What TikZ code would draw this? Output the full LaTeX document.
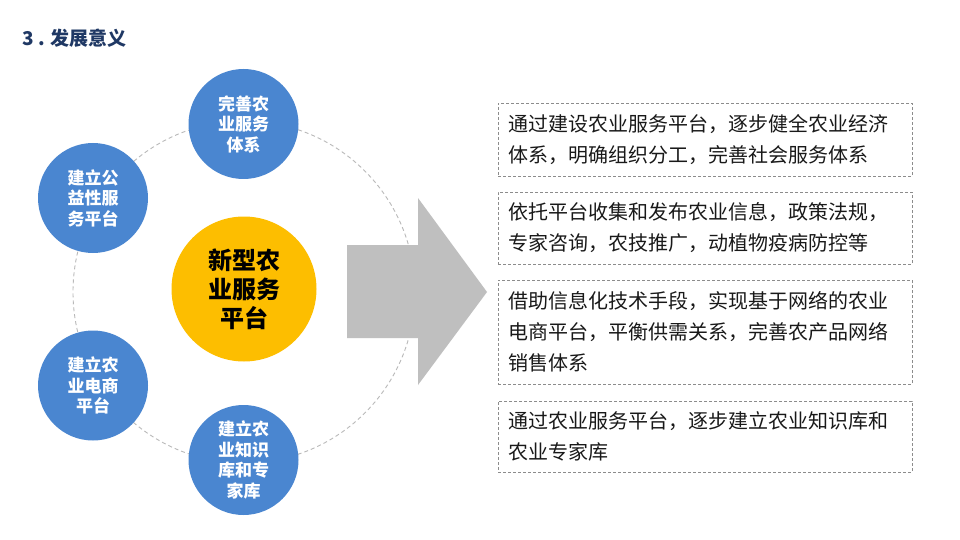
\documentclass[tikz,border=0pt]{standalone}
\usepackage{fontspec}
\setmainfont{Noto Sans CJK SC}
\newfontfamily\cjk{Noto Sans CJK SC}
\definecolor{circblue}{RGB}{74,134,208}
\definecolor{gold}{RGB}{253,190,0}
\definecolor{navy}{RGB}{31,56,100}
\definecolor{arrowgray}{RGB}{191,191,191}
\definecolor{boxline}{RGB}{140,140,140}
\definecolor{ringgray}{RGB}{185,185,185}
\definecolor{txt}{RGB}{25,25,25}
\tikzset{
  bluecirc/.style={circle, fill=circblue, minimum size=110pt, inner sep=0pt, text=white, font=\cjk\bfseries\fontsize{17}{20.5}\selectfont, align=center},
  goldcirc/.style={circle, fill=gold, minimum size=145pt, inner sep=0pt, text=black, font=\cjk\bfseries\fontsize{24}{29}\selectfont, align=center},
  tbox/.style={draw=boxline, line width=0.9pt, dash pattern=on 3pt off 2pt, minimum width=414pt, text width=394pt, inner xsep=10pt, inner ysep=0pt, align=left, text=txt, font=\cjk\fontsize{20}{31}\selectfont},
  ring/.style={draw=ringgray, line width=0.9pt, dash pattern=on 4pt off 3pt}
}
\begin{document}
\begin{tikzpicture}[x=1pt,y=-1pt]
\useasboundingbox[fill=white] (0,0) rectangle (960,540);
% title
\node[anchor=west, text=navy, font=\cjk\bfseries\fontsize{19}{22}\selectfont, inner sep=0pt] (title) at (22,38) {3 . 发展意义};
% ring
\coordinate (ringc) at (244,292);
\draw[ring] (ringc) circle[radius=171];
% arrow
\fill[arrowgray] (347,245) -- (418,245) -- (418,198) -- (487,292) -- (418,385) -- (418,338) -- (347,338) -- cycle;
% circles
\node[goldcirc] (center) at (244,289) {新型农\\业服务\\平台};
\node[bluecirc] (c1) at (243.5,124) {完善农\\业服务\\体系};
\node[bluecirc] (c2) at (93,198) {建立公\\益性服\\务平台};
\node[bluecirc] (c3) at (93,385.5) {建立农\\业电商\\平台};
\node[bluecirc] (c4) at (243.5,460) {建立农\\业知识\\库和专\\家库};
% boxes
\node[tbox, minimum height=73pt] (b1) at (705,139.5) {通过建设农业服务平台，逐步健全农业经济\\体系，明确组织分工，完善社会服务体系};
\node[tbox, minimum height=72pt] (b2) at (705,228) {依托平台收集和发布农业信息，政策法规，\\专家咨询，农技推广，动植物疫病防控等};
\node[tbox, minimum height=104pt] (b3) at (705,332) {借助信息化技术手段，实现基于网络的农业\\电商平台，平衡供需关系，完善农产品网络\\销售体系};
\node[tbox, minimum height=71pt] (b4) at (705,436.5) {通过农业服务平台，逐步建立农业知识库和\\农业专家库};
\end{tikzpicture}
\end{document}
